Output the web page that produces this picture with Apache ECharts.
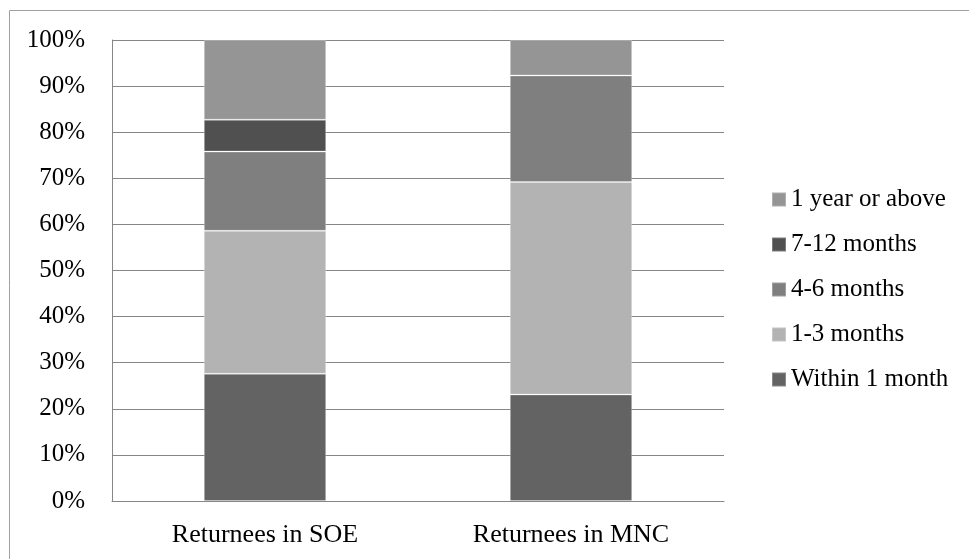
<!DOCTYPE html>
<html>
<head>
<meta charset="utf-8">
<script src="https://cdn.jsdelivr.net/npm/echarts@6/dist/echarts.min.js"></script>
<style>
  html, body { margin: 0; padding: 0; background: #ffffff; }
  #chart { width: 969px; height: 559px; }
</style>
</head>
<body>
<div id="chart"></div>
<script>
// Time taken by returnees to find a job, share of respondents (%)
const categories = ['Returnees in SOE', 'Returnees in MNC'];
const within1Month = [27.6, 23.1];
const months1to3 = [31.0, 46.1];
const months4to6 = [17.2, 23.1];
const months7to12 = [6.9, 0];
const yearOrAbove = [17.3, 7.7];

const seriesNames = ['Within 1 month', '1-3 months', '4-6 months', '7-12 months', '1 year or above'];
const seriesValues = [within1Month, months1to3, months4to6, months7to12, yearOrAbove];
const seriesColors = ['#636363', '#b3b3b3', '#7f7f7f', '#505050', '#959595'];

const FONT = 'Liberation Serif, Times New Roman, serif';

const chart = echarts.init(document.getElementById('chart'), null, { renderer: 'canvas' });

chart.setOption({
  backgroundColor: '#ffffff',
  animation: false,
  graphic: [{
    type: 'rect',
    shape: { x: 9.5, y: 10.5, width: 1000, height: 600 },
    style: { fill: 'none', stroke: '#a0a0a0', lineWidth: 1 },
    silent: true
  }],
  grid: { left: 112, top: 40, right: 245, bottom: 58 },
  legend: {
    orient: 'vertical',
    left: 766,
    top: 182,
    itemWidth: 14,
    itemHeight: 14,
    itemGap: 20,
    icon: 'rect',
    data: seriesNames.slice().reverse(),
    textStyle: { fontFamily: FONT, fontSize: 25, color: '#000', lineHeight: 25 }
  },
  xAxis: {
    type: 'category',
    data: categories,
    axisLine: { lineStyle: { color: '#868686', width: 1 } },
    axisTick: { show: false },
    axisLabel: { fontFamily: FONT, fontSize: 26, color: '#000', margin: 21 }
  },
  yAxis: {
    type: 'value',
    min: 0,
    max: 100,
    interval: 10,
    axisLine: { show: true, lineStyle: { color: '#868686', width: 1 } },
    axisTick: { show: false },
    splitLine: { lineStyle: { color: '#868686', width: 1 } },
    axisLabel: { fontFamily: FONT, fontSize: 25, color: '#000', margin: 27, formatter: '{value}%' }
  },
  series: seriesNames.map((name, i) => ({
    name: name,
    type: 'bar',
    stack: 'total',
    barWidth: '40%',
    data: seriesValues[i],
    itemStyle: { color: seriesColors[i], borderColor: 'rgba(255,255,255,0.25)', borderWidth: 1 }
  }))
});
</script>
</body>
</html>
